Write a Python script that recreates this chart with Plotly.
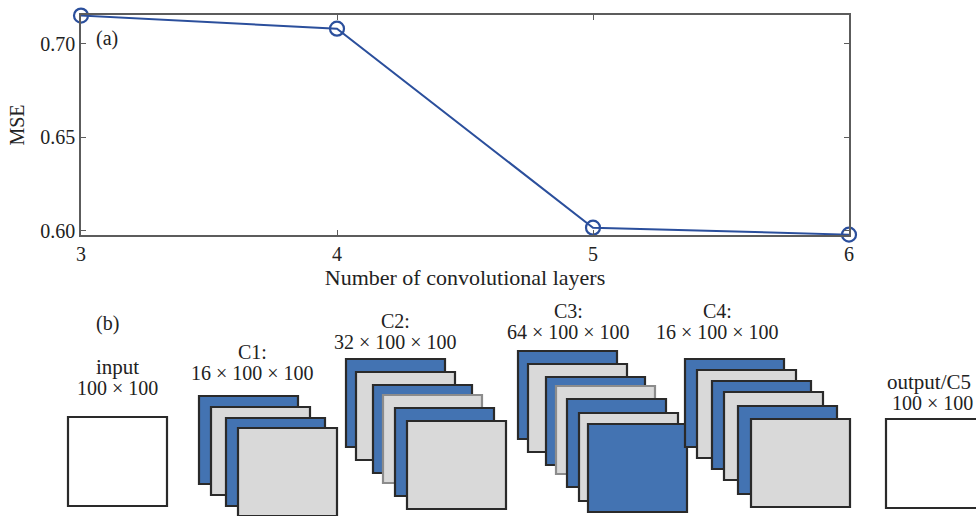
import plotly.graph_objects as go

# ---- data (panel a) ----
layers = [3, 4, 5, 6]
mse = [0.715, 0.708, 0.6016, 0.5979]
y_ticks = [0.60, 0.65, 0.70]
x_ticks = [3, 4, 5, 6]

# ---- diagram labels (panel b) ----
stage_names = ["input", "C1:", "C2:", "C3:", "C4:", "output/C5"]
stage_sizes = ["100 × 100", "16 × 100 × 100", "32 × 100 × 100",
               "64 × 100 × 100", "16 × 100 × 100", "100 × 100"]

W, H = 976, 516
FONT = "Liberation Serif"
TXT = "#222222"
BLUE = "#4373b2"
GRAY = "#d9d9d9"
DARK = "#2a2a2a"
LIGHT = "#8c8c8c"
LINE = "#2b4f9c"

def px(x):
    return x / W

def py(y):
    return 1 - y / H

fig = go.Figure()
fig.add_trace(go.Scatter(
    x=layers, y=mse, mode="lines+markers",
    line=dict(color=LINE, width=2),
    marker=dict(symbol="circle-open", size=14, color=LINE, line=dict(width=2.2, color=LINE)),
    cliponaxis=False, showlegend=False, hoverinfo="skip",
))

axis_common = dict(showline=True, mirror="ticks", linecolor="#5c5c5c", linewidth=1.5,
                   ticks="inside", ticklen=5, tickcolor="#5c5c5c", showgrid=False, zeroline=False,
                   automargin=False,
                   tickfont=dict(family=FONT, size=20, color=TXT))

fig.update_layout(
    width=W, height=H, margin=dict(l=0, r=0, t=0, b=0, autoexpand=False),
    paper_bgcolor="white", plot_bgcolor="white",
    font=dict(family=FONT, size=20, color=TXT),
    xaxis=dict(domain=[px(81), px(849)], range=[3, 6], tickvals=x_ticks,
               title=dict(text="Number of convolutional layers", standoff=0,
                          font=dict(family=FONT, size=22, color=TXT)),
               **axis_common),
    yaxis=dict(domain=[py(235), py(15)], range=[0.5977, 0.7153], tickvals=y_ticks,
               tickformat=".2f",
               title=dict(text="MSE", standoff=10, font=dict(family=FONT, size=20, color=TXT)),
               **axis_common),
)

# panel labels
fig.add_annotation(x=px(107), y=py(38), xref="paper", yref="paper", text="(a)",
                   xanchor="center", yanchor="middle",
                   showarrow=False, font=dict(family=FONT, size=20, color=TXT))
fig.add_annotation(x=px(107), y=py(323), xref="paper", yref="paper", text="(b)",
                   xanchor="center", yanchor="middle",
                   showarrow=False, font=dict(family=FONT, size=20, color=TXT))

# ---- diagram geometry ----
RW, RH = 99, 88
stacks = [
    # (label centre x, label first-line y, rects[(x, y, fill, border)])
    (117, 367, [(68, 417, "white", DARK)]),
    (252, 352, [(199, 396, BLUE, DARK), (211, 407, GRAY, DARK), (226, 418, BLUE, DARK), (238, 428, GRAY, DARK)]),
    (395, 321, [(346, 359, BLUE, DARK), (356, 372, GRAY, DARK), (373, 385, BLUE, DARK),
                (383, 395, GRAY, LIGHT), (395, 408, BLUE, DARK), (407, 421, GRAY, DARK)]),
    (568, 311, [(518, 351, BLUE, DARK), (528, 364, GRAY, DARK), (546, 377, BLUE, DARK),
                (556, 386, GRAY, LIGHT), (567, 399, BLUE, DARK), (579, 413, GRAY, DARK),
                (588, 424, BLUE, DARK)]),
    (717, 311, [(685, 359, BLUE, DARK), (697, 370, GRAY, DARK), (712, 381, BLUE, DARK),
                (724, 392, GRAY, DARK), (738, 406, BLUE, DARK), (751, 419, GRAY, DARK)]),
    (931, 382, [(886, 419, "white", DARK)]),
]

for i, (cx, ly, rects) in enumerate(stacks):
    for (x0, y0, fill, border) in rects:
        extra = 1 if i in (0, 5) else 0
        fig.add_shape(type="rect", xref="paper", yref="paper",
                      x0=px(x0), x1=px(x0 + RW), y0=py(y0), y1=py(y0 + RH + extra),
                      fillcolor=fill, line=dict(color=border, width=2.2))
    is_io = i in (0, 5)
    if i == 5:
        anchor, xa, xb = "left", px(885), px(890)
    else:
        anchor, xa, xb = "center", px(cx), px(cx)
    fig.add_annotation(x=xa, y=py(ly), xref="paper", yref="paper", text=stage_names[i],
                       xanchor=anchor, yanchor="middle",
                       showarrow=False, font=dict(family=FONT, size=21 if is_io else 20, color=TXT))
    fig.add_annotation(x=xb, y=py(ly + 21), xref="paper", yref="paper", text=stage_sizes[i],
                       xanchor=anchor, yanchor="middle",
                       showarrow=False, font=dict(family=FONT, size=20, color=TXT))

fig.write_html("out.html", config={"displayModeBar": False},
               post_script="document.body.style.margin='0';document.body.style.overflow='hidden';")
